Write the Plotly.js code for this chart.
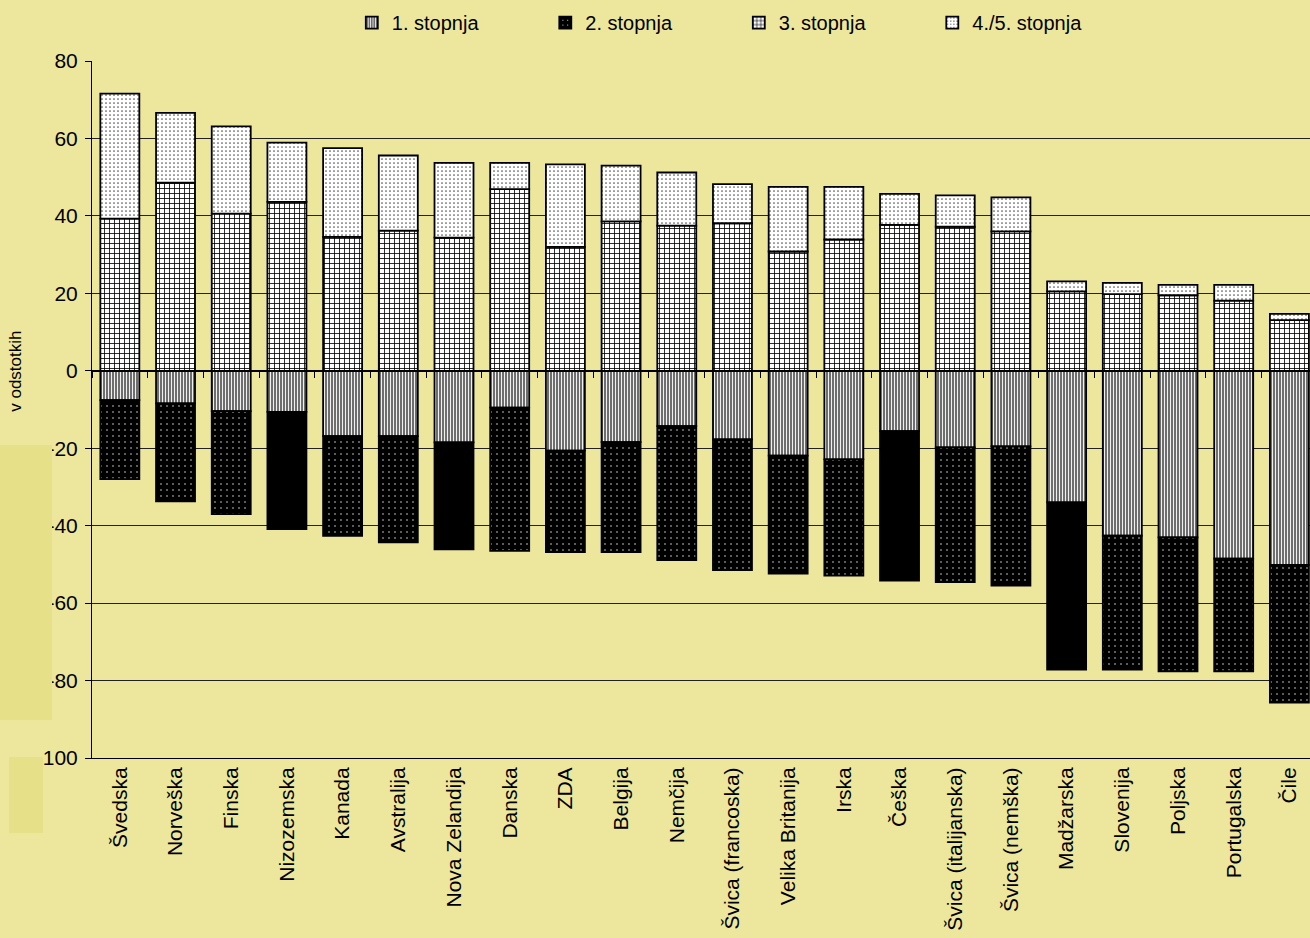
<!DOCTYPE html>
<html>
<head>
<meta charset="utf-8">
<script src="https://cdn.plot.ly/plotly-3.0.1.min.js"></script>
<style>
html,body{margin:0;padding:0;background:#ECE79D;}
#chart{width:1310px;height:938px;}
</style>
</head>
<body>
<div id="chart"></div>
<script>
const categories = ["Švedska","Norveška","Finska","Nizozemska","Kanada","Avstralija","Nova Zelandija","Danska","ZDA","Belgija","Nemčija","Švica (francoska)","Velika Britanija","Irska","Češka","Švica (italijanska)","Švica (nemška)","Madžarska","Slovenija","Poljska","Portugalska","Čile"];

// cumulative boundaries (percent)
const level1 = [-7.6,-8.4,-10.4,-10.6,-16.9,-16.9,-18.5,-9.5,-20.6,-18.4,-14.3,-17.7,-21.9,-22.9,-15.6,-19.8,-19.5,-34.0,-42.6,-43.0,-48.5,-50.1];
const level1and2Bottom = [-28.0,-33.7,-37.0,-40.9,-42.6,-44.3,-46.1,-46.5,-46.8,-46.8,-48.9,-51.5,-52.4,-52.9,-54.2,-54.6,-55.5,-77.2,-77.2,-77.6,-77.6,-85.7];
const level3 = [39.3,48.6,40.6,43.6,34.6,36.2,34.4,46.9,32.0,38.6,37.5,38.1,30.8,33.9,37.7,37.2,36.0,20.5,19.8,19.5,18.1,13.1];
const totalTop = [71.6,66.6,63.1,58.9,57.5,55.6,53.7,53.7,53.3,53.0,51.2,48.2,47.5,47.5,45.7,45.3,44.8,23.1,22.7,22.2,22.2,14.7];
const solidLevel2 = ["Nizozemska","Nova Zelandija","Češka","Madžarska"];

const level2 = level1and2Bottom.map((v,i)=>+(v-level1[i]).toFixed(1));
const level45 = totalTop.map((v,i)=>+(v-level3[i]).toFixed(1));

const seriesNames = ["1. stopnja","2. stopnja","3. stopnja","4./5. stopnja"];
const outline = {color:"#000000", width:1.8};

const traces = [
  {type:"bar", name:seriesNames[0], x:categories, y:level1,
   marker:{color:"#8a8a8a", line:outline,
     pattern:{shape:"|", fgcolor:"#ffffff", bgcolor:"#6e6e6e", size:3, solidity:0.3, fillmode:"replace"}}},
  {type:"bar", name:seriesNames[1], x:categories, y:level2,
   marker:{color:"#000000", line:outline,
     pattern:{shape:categories.map(c=>solidLevel2.includes(c)?"":"."), fgcolor:"#ffffff", bgcolor:"#000000", size:6, solidity:0.04, fillmode:"replace"}}},
  {type:"bar", name:seriesNames[2], x:categories, y:level3,
   marker:{color:"#ffffff", line:outline,
     pattern:{shape:"+", fgcolor:"#000000", bgcolor:"#ffffff", size:5, solidity:0.3, fillmode:"replace"}}},
  {type:"bar", name:seriesNames[3], x:categories, y:level45,
   marker:{color:"#ffffff", line:outline,
     pattern:{shape:".", fgcolor:"#555555", bgcolor:"#ffffff", size:4, solidity:0.15, fillmode:"replace"}}},
  {type:"scatter", mode:"none", x:categories, y:categories.map(()=>null), xaxis:"x2", yaxis:"y", showlegend:false, hoverinfo:"skip"}
];

const yTicks = [80,60,40,20,0,-20,-40,-60,-80,-100];

const layout = {
  width:1310, height:938,
  paper_bgcolor:"#ECE79D", plot_bgcolor:"#ECE79D",
  margin:{l:92, r:0, t:61, b:180, autoexpand:false},
  barmode:"relative", bargap:0.3,
  font:{family:"Arial, 'Liberation Sans', sans-serif", size:21, color:"#000000"},
  showlegend:true,
  legend:{orientation:"h", x:0.2133, xanchor:"left", y:1.055, yanchor:"middle",
    font:{size:20}, entrywidth:148.5, entrywidthmode:"pixels", traceorder:"normal",
    bgcolor:"rgba(0,0,0,0)"},
  xaxis:{type:"category", categoryorder:"array", categoryarray:categories,
    range:[-0.5, 21.37], tickangle:-90, ticks:"", showline:true, linecolor:"#000000", linewidth:1,
    showgrid:false, zeroline:false, automargin:false, fixedrange:true, tickfont:{size:21}},
  xaxis2:{type:"category", categoryorder:"array", categoryarray:categories, overlaying:"x",
    anchor:"free", position:100/180, range:[-0.5, 21.37], side:"bottom",
    ticks:"outside", tickson:"boundaries", ticklen:6, tickcolor:"#000000", tickwidth:1,
    showticklabels:false, showline:true, linecolor:"#000000", linewidth:2, showgrid:false, zeroline:false},
  yaxis:{range:[-100,80], tickvals:yTicks, ticktext:yTicks.map(String),
    ticks:"outside", ticklen:6, tickcolor:"#000000", showline:true, linecolor:"#000000", linewidth:1,
    showgrid:true, gridcolor:"#222222", gridwidth:1, zeroline:false, automargin:false, ticklabelstandoff:3,
    tickfont:{size:21}},
  annotations:[
    {text:"v odstotkih", xref:"paper", yref:"y", x:-0.0624, y:0, textangle:-90,
     showarrow:false, font:{size:17}, xanchor:"center", yanchor:"middle"},
    {text:" ", xref:"paper", yref:"paper", x:-0.0755, y:0.449, xanchor:"left", yanchor:"top",
     width:52, height:275, bgcolor:"#E6E088", borderpad:0, borderwidth:0, showarrow:false},
    {text:" ", xref:"paper", yref:"paper", x:-0.0681, y:0.0014, xanchor:"left", yanchor:"top",
     width:34, height:76, bgcolor:"#E6E088", borderpad:0, borderwidth:0, showarrow:false}
  ]
};

Plotly.newPlot("chart", traces, layout, {displayModeBar:false, staticPlot:true});
</script>
</body>
</html>
